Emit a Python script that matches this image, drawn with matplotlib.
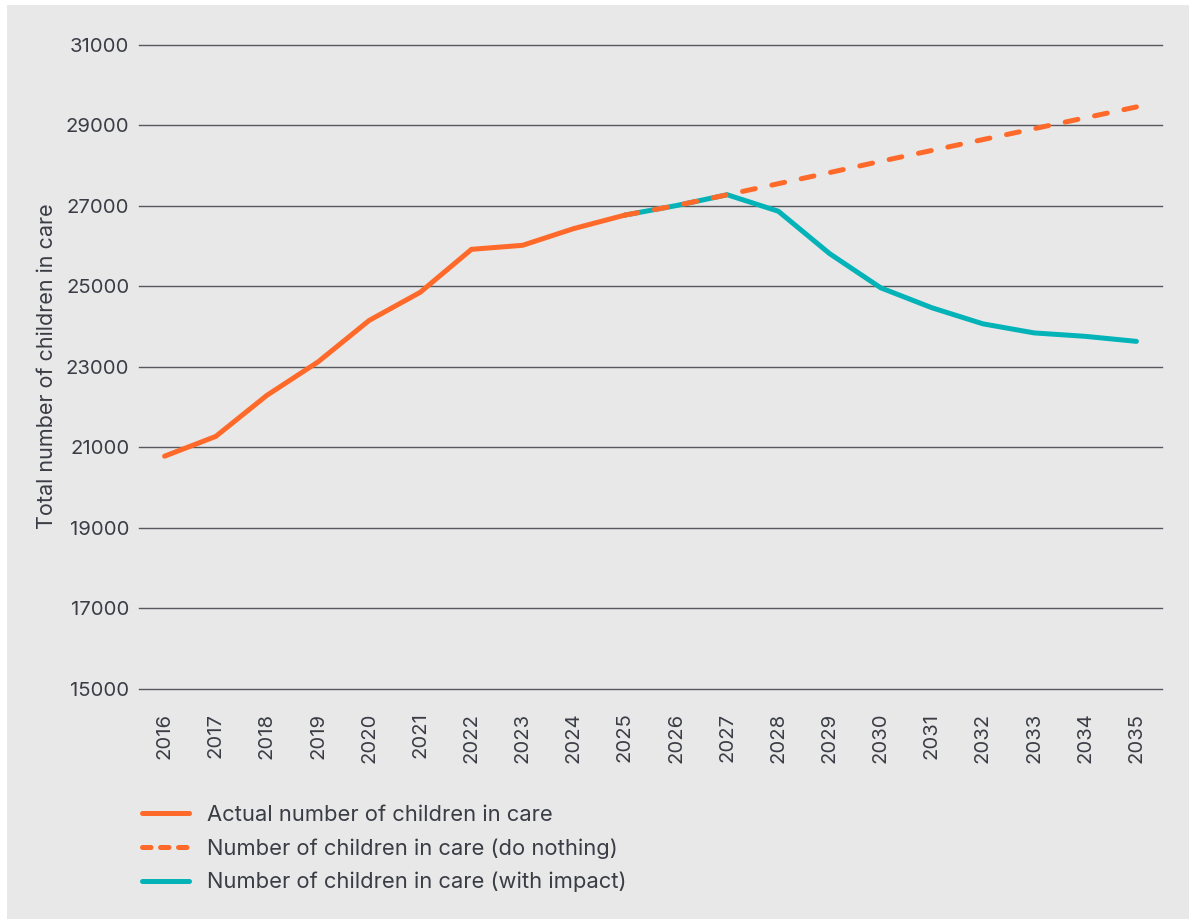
import matplotlib.pyplot as plt
from matplotlib.lines import Line2D
from matplotlib.patches import Rectangle

plt.rcParams['font.family'] = ['Inter', 'DejaVu Sans']

years = list(range(2016, 2036))

# actual figures 2016-2025
actual_years = list(range(2016, 2026))
actual = [20780, 21270, 22290, 23120, 24150, 24850, 25915, 26015, 26430, 26765]

# projections 2025-2035
proj_years = list(range(2025, 2036))
do_nothing = [26765, 27000, 27270, 27545, 27820, 28100, 28370, 28640, 28910, 29180, 29450]
with_impact = [26765, 27000, 27270, 26860, 25810, 24960, 24465, 24065, 23840, 23755, 23630]

y_ticks = list(range(15000, 31001, 2000))

labels = ["Actual number of children in care",
          "Number of children in care (do nothing)",
          "Number of children in care (with impact)"]

orange = "#ff6a2a"
teal = "#03b3b8"
grid_col = "#55585e"
text_col = "#3a3d45"
bg = "#e8e8e8"

W, H = 1189, 919
fig = plt.figure(figsize=(W / 100, H / 100), dpi=100, facecolor="white")
fig.patches.append(Rectangle((7 / W, 0), 1 - 7 / W, 1 - 5 / H, transform=fig.transFigure,
                             facecolor=bg, edgecolor="none", zorder=-10))

ax = fig.add_axes([139 / W, (H - 689) / H, (1162 - 139) / W, (689 - 44.5) / H])
ax.set_facecolor(bg)

lw = 3.6
ax.plot(proj_years, with_impact, color=teal, lw=lw, solid_capstyle="round",
        solid_joinstyle="miter", zorder=3)
ax.plot(actual_years, actual, color=orange, lw=lw, solid_capstyle="round",
        solid_joinstyle="miter", zorder=4)
ax.plot(proj_years, do_nothing, color=orange, lw=lw, dashes=(2.6, 3.4),
        dash_capstyle="round", zorder=5)

ax.set_xlim(2015.5, 2035.5)
ax.set_ylim(15000, 31000)
ax.set_yticks(y_ticks)
ax.set_xticks(years)
ax.set_xticklabels([str(y) for y in years], rotation=90)
ax.yaxis.grid(True, color=grid_col, lw=1.0)
for gl in ax.get_ygridlines():
    gl.set_clip_on(False)
ax.set_axisbelow(True)
for s in ax.spines.values():
    s.set_visible(False)
ax.tick_params(axis="both", length=0, labelsize=14.6, colors=text_col)
ax.tick_params(axis="y", pad=7)
ax.tick_params(axis="x", pad=17)

fig.text(47 / W, 1 - 366 / H, "Total number of children in care", rotation=90,
         ha="center", va="center", fontsize=15.5, color=text_col)

handles = [Line2D([], [], color=orange, lw=lw, solid_capstyle="round"),
           Line2D([], [], color=orange, lw=lw, dashes=(1.7, 1.9), dash_capstyle="round"),
           Line2D([], [], color=teal, lw=lw, solid_capstyle="round")]
fig.legend(handles, labels, loc="upper left", bbox_to_anchor=(142 / W, 1 - 805 / H),
           frameon=False, fontsize=15.8, labelcolor=text_col, handlelength=2.15,
           handletextpad=0.82, labelspacing=0.6, borderpad=0, borderaxespad=0)

fig.savefig("out.png", dpi=100, facecolor="white")
